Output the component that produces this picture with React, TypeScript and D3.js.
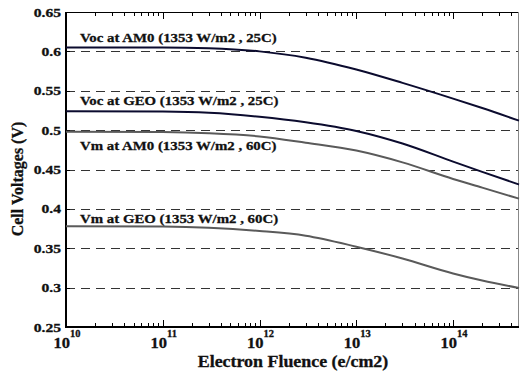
import { useEffect, useRef } from 'react'
import * as d3 from 'd3'

// fluence points (e/cm2) and cell voltages
const fluence = [1e10, 1e11, 3e11, 1e12, 3e12, 1e13, 3e13, 1e14, 2e14, 4.8e14]
const vocAM0 = [0.605, 0.605, 0.604, 0.6, 0.592, 0.577, 0.56, 0.54, 0.528, 0.512]
const vocGEO = [0.524, 0.5235, 0.522, 0.517, 0.51, 0.499, 0.483, 0.46, 0.447, 0.431]
const vmAM0 = [0.498, 0.4975, 0.496, 0.492, 0.484, 0.474, 0.459, 0.438, 0.427, 0.413]
const vmGEO = [0.378, 0.3775, 0.376, 0.372, 0.366, 0.352, 0.337, 0.318, 0.309, 0.2995]

const seriesLabels = [
  'Voc at AM0 (1353 W/m2 , 25C)',
  'Voc at GEO (1353 W/m2 , 25C)',
  'Vm at AM0 (1353 W/m2 , 60C)',
  'Vm at GEO (1353 W/m2 , 60C)',
]
// baseline value of each label (just above its curve's plateau)
const labelAt = [0.6123, 0.5318, 0.4746, 0.3815]
const yTicks = [0.25, 0.3, 0.35, 0.4, 0.45, 0.5, 0.55, 0.6, 0.65]
const gridTicks = [0.3, 0.35, 0.4, 0.45, 0.5, 0.55, 0.6]
const xDecades = [10, 11, 12, 13, 14]

const FONT = 'Liberation Serif, Times New Roman, serif'

export default function App() {
  const ref = useRef<SVGSVGElement>(null)

  useEffect(() => {
    const svg = d3.select(ref.current)
    svg.selectAll('*').remove()

    const L = 66, R = 519, T = 12, B = 327
    const x = d3.scaleLog().domain([1e10, 4.8e14]).range([L, R])
    const y = d3.scaleLinear().domain([0.25, 0.65]).range([B, T])

    // the reference text is stretched sideways and heavy, so every label gets an x-scale + thin stroke
    const label = (px: number, py: number, sx: number, size: number, anchor = 'start', rot = 0) =>
      svg.append('g')
        .attr('transform', `translate(${px},${py}) rotate(${rot}) scale(${sx},1)`)
        .append('text')
        .attr('text-anchor', anchor)
        .attr('font-family', FONT).attr('font-weight', 'bold').attr('font-size', size)
        .attr('fill', '#111').attr('stroke', '#111').attr('stroke-width', 0.3)

    svg.append('rect').attr('width', 521).attr('height', 376).attr('fill', '#fff')

    // grid
    svg.append('g').selectAll('line').data(gridTicks).join('line')
      .attr('x1', L).attr('x2', R)
      .attr('y1', d => Math.round(y(d)) + 0.5).attr('y2', d => Math.round(y(d)) + 0.5)
      .attr('stroke', '#333').attr('stroke-width', 1).attr('stroke-dasharray', '9,6')

    // minor / major ticks on bottom and top, small ticks on the left
    const ticks: number[] = []
    for (let e = 10; e <= 14; e++) for (let m = 1; m <= 9; m++) {
      const v = m * Math.pow(10, e)
      if (v <= 4.8e14) ticks.push(v)
    }
    const tg = svg.append('g').attr('stroke', '#000').attr('stroke-width', 1)
    ticks.forEach(v => {
      const px = Math.round(x(v)) + 0.5
      const len = v === Math.pow(10, Math.round(Math.log10(v))) ? 7 : 4
      tg.append('line').attr('x1', px).attr('x2', px).attr('y1', B).attr('y2', B - len)
      tg.append('line').attr('x1', px).attr('x2', px).attr('y1', T).attr('y2', T + len)
    })
    yTicks.forEach(v => {
      const py = Math.round(y(v)) + 0.5
      tg.append('line').attr('x1', L).attr('x2', L + 4).attr('y1', py).attr('y2', py)
    })

    // frame
    svg.append('line').attr('x1', L).attr('x2', R).attr('y1', T + 0.5).attr('y2', T + 0.5)
      .attr('stroke', '#000').attr('stroke-width', 1)
    svg.append('line').attr('x1', R - 0.5).attr('x2', R - 0.5).attr('y1', T).attr('y2', B)
      .attr('stroke', '#888').attr('stroke-width', 1)
    svg.append('line').attr('x1', L).attr('x2', L).attr('y1', T).attr('y2', B + 1)
      .attr('stroke', '#000').attr('stroke-width', 2)
    svg.append('line').attr('x1', L - 1).attr('x2', R).attr('y1', B).attr('y2', B)
      .attr('stroke', '#000').attr('stroke-width', 2)

    // curves
    const line = d3.line<number>()
      .x((d, i) => x(fluence[i]))
      .y(d => y(d))
      .curve(d3.curveMonotoneX)
    const series = [
      { v: vocAM0, c: '#0b0b2e' },
      { v: vocGEO, c: '#0b0b2e' },
      { v: vmAM0, c: '#5a5a5a' },
      { v: vmGEO, c: '#5a5a5a' },
    ]
    series.forEach(s => {
      svg.append('path').datum(s.v).attr('d', line)
        .attr('fill', 'none').attr('stroke', s.c).attr('stroke-width', 2)
    })

    // series labels
    seriesLabels.forEach((t, i) => {
      label(80, y(labelAt[i]), 1.1, 13.5).text(t)
    })

    // y tick labels
    yTicks.forEach(v => {
      label(61, y(v) + 4.5, 1.2, 13, 'end').text(d3.format('')(v))
    })

    // x tick labels: 10 with superscript exponent
    xDecades.forEach(e => {
      const t = label(x(Math.pow(10, e)) + 1, 348, 1.1, 15, 'middle')
      t.append('tspan').text('10')
      t.append('tspan').attr('dy', -11).attr('font-size', 9.5).text(String(e))
    })

    // axis titles
    label(293, 367, 1.12, 16, 'middle').text('Electron Fluence (e/cm2)')
    label(23, 179, 1.0, 16, 'middle', -90).text('Cell Voltages (V)')
  }, [])

  return (
    <svg ref={ref} width={521} height={376}
      style={{ position: 'absolute', left: 0, top: 0, display: 'block' }} />
  )
}
